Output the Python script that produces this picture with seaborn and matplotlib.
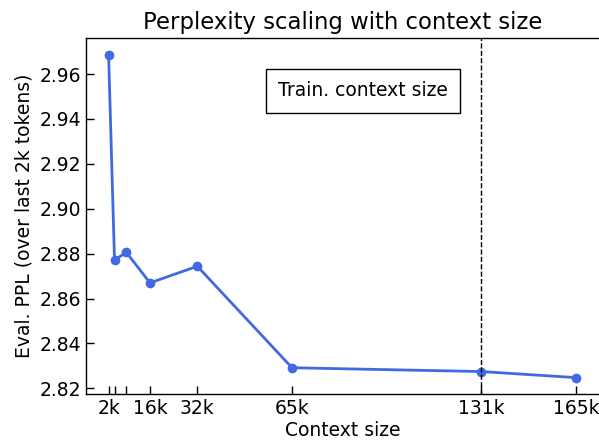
import numpy as np
import pandas as pd
import seaborn as sns
import matplotlib
matplotlib.use("Agg")
import matplotlib.pyplot as plt

# context sizes (tokens) and eval perplexity
ctx = [2048, 4096, 8192, 16384, 32768, 65536, 131072, 163840]
ppl = [2.9687, 2.8772, 2.8806, 2.8670, 2.8744, 2.8292, 2.8275, 2.8248]
tick_pos = [2048, 4096, 8192, 16384, 32768, 65536, 131072, 163840]
tick_lbl = ["2k", "", "", "16k", "32k", "65k", "131k", "165k"]
y_ticks = [2.82, 2.84, 2.86, 2.88, 2.90, 2.92, 2.94, 2.96]
train_ctx = 131072

df = pd.DataFrame({"ctx": ctx, "ppl": ppl})

sns.set_style("white", {"text.color": "black", "axes.labelcolor": "black",
                        "xtick.color": "black", "ytick.color": "black",
                        "xtick.bottom": True, "ytick.left": True,
                        "axes.edgecolor": "black"})
plt.rcParams["font.family"] = ["DejaVu Sans"]

fig = plt.figure(figsize=(5.99, 4.41), dpi=100)
ax = fig.add_axes([86 / 599, 47 / 441, 513 / 599, 356.5 / 441])

sns.lineplot(data=df, x="ctx", y="ppl", marker="o", color="royalblue",
             linewidth=2, markersize=7, markeredgewidth=0, ax=ax)
ax.axvline(train_ctx, color="black", linestyle="--", linewidth=1)

ax.text(0.54, 0.85, "Train. context size", transform=ax.transAxes,
        ha="center", va="center", fontsize=13.5,
        bbox=dict(boxstyle="square,pad=0.65", facecolor="white", edgecolor="black", linewidth=1))

ax.set_xlim(-5773, 171820)
ax.set_ylim(2.8175, 2.9763)
ax.set_xticks(tick_pos)
ax.set_xticklabels(tick_lbl)
ax.set_yticks(y_ticks)
ax.set_yticklabels([f"{v:.2f}" for v in y_ticks])
ax.tick_params(direction="in", length=6, width=1, labelsize=13.5, colors="black",
               bottom=True, left=True)

for s in ["left", "bottom", "top"]:
    ax.spines[s].set_color("black")
    ax.spines[s].set_linewidth(1)
ax.spines["right"].set_visible(False)

ax.set_xlabel("Context size", fontsize=13.5, labelpad=2)
ax.set_ylabel("Eval. PPL (over last 2k tokens)", fontsize=13.5)
ax.set_title("Perplexity scaling with context size", fontsize=16.4, pad=6, color="black")

fig.savefig("out.png", dpi=100)
